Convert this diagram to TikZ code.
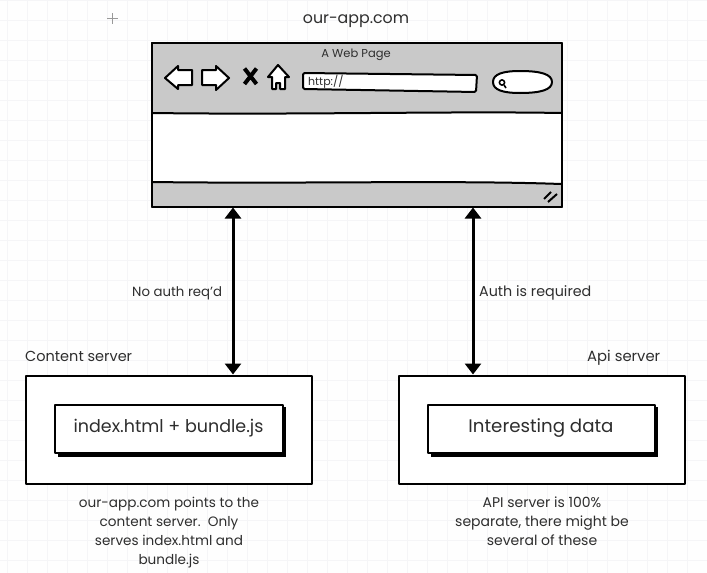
\documentclass[tikz,border=0pt]{standalone}
\usepackage{fontspec}
\setmainfont{Poppins}
\usetikzlibrary{arrows.meta}
\definecolor{ink}{HTML}{2E2E2E}
\definecolor{gridc}{HTML}{F5F5F7}
\definecolor{chrome}{HTML}{C9C9C9}
\newcommand{\fs}[2][0]{\fontsize{#2}{19}\selectfont}
\tikzset{
  x=1pt,y=-1pt,
  sk/.style={draw=black,line width=2pt,line join=round},
  thin sk/.style={draw=black,line width=1.6pt,line join=round},
  box/.style={sk,fill=white,inner sep=0pt,minimum width=#1,anchor=north west},
  txt/.style={text=ink,inner sep=0pt,align=center},
  arr/.style={draw=black,line width=3pt,{Triangle[length=11pt,width=16pt]}-{Triangle[length=11pt,width=16pt]}},
}
\begin{document}
\begin{tikzpicture}
\useasboundingbox (0,0) rectangle (707,573);
\fill[white!99!gray] (0,0) rectangle (707,573);
\foreach \g in {7,27,...,707} \draw[gridc,line width=.8pt] (\g,0) -- (\g,573);
\foreach \g in {0,20,...,573} \draw[gridc,line width=.8pt] (0,\g) -- (707,\g);
% plus mark
\draw[gray!80,line width=.7pt] (112,13) -- (112,24) (107,18.5) -- (118,18.5);
\node[txt,font=\fs{15.8}] (title) at (356,21.5) {our-app.com};
% browser window
\node[box=410pt,minimum height=164pt,fill=chrome] (browser) at (150.5,41.5) {};
\fill[white] (152,113) .. controls (300,115) and (450,111) .. (561,113) -- (561,183) .. controls (450,181) and (300,184) .. (152,182) -- cycle;
\draw[sk] (152,113) .. controls (300,115) and (450,111) .. (561,113);
\draw[sk] (152,182) .. controls (300,184) and (450,180) .. (561,184);
\draw[sk] (151.5,42.5) rectangle (561.5,206.5);
\node[txt,font=\fs{11.5}] (pagetitle) at (356,54.5) {A Web Page};
% toolbar icons
\draw[sk,fill=white] (165,78) -- (178,66) -- (178,70) -- (192,70) -- (192,85) -- (178,85) -- (178,89) -- cycle;
\draw[sk,fill=white] (202,70) -- (216,70) -- (216,66) -- (229,78) -- (216,90) -- (216,85) -- (202,85) -- cycle;
\draw[black,line width=4pt] (244.5,68.5) -- (256.5,84) (256.5,68.5) -- (244.5,84);
\draw[sk,fill=white] (278,65) -- (289,77) -- (285,77) -- (285,89) -- (280,89) -- (280,83) -- (276,83) -- (276,89) -- (272,89) -- (272,77) -- (268,77) -- cycle;
\draw[sk,fill=white,rounded corners=1.5pt] (303,73) -- (477,75) -- (476,92) -- (303,89) -- cycle;
\node[txt,font=\fs{11},anchor=west] (url) at (308,81.5) {http://};
\draw[sk,fill=white] (493,82) .. controls (493,74) and (503,71) .. (520,71) .. controls (540,71) and (552,74) .. (552,82) .. controls (552,90) and (540,93) .. (520,93) .. controls (503,93) and (493,90) .. (493,82) -- cycle;
\draw[thin sk] (502,82.5) circle (2.6pt);
\draw[thin sk] (504,85) -- (506,88);
\draw[black,line width=2pt] (544,199) -- (551,192) (548,202) -- (557,194);
% servers
\node[box=286pt,minimum height=108pt] (content) at (24.5,374.5) {};
\node[box=286pt,minimum height=108pt] (api) at (397.5,374.5) {};
\fill[black] (58,407) rectangle (286,456.5);
\fill[black] (431,407) rectangle (658,456.5);
\node[box=228pt,minimum height=48pt,font=\fs{17.5},text=ink] (bundle) at (53.5,403.5) {\raisebox{-1.5pt}{index.html + bundle.js}};
\node[box=227pt,minimum height=48pt,font=\fs{18.2},text=ink] (data) at (426.5,403.5) {\raisebox{-1.5pt}{Interesting data}};
\node[txt,font=\fs{14.5},anchor=base west] (clabel) at (25,361.5) {Content server};
\node[txt,font=\fs{14.8},anchor=base west] (alabel) at (587,361.5) {Api server};
\node[txt,font=\fs{13.6},anchor=north] (ccap) at (169,497) {our-app.com points to the\\content server.\ \ Only\\serves index.html and\\bundle.js};
\node[txt,font=\fs{14},anchor=north] (acap) at (542,497) {API server is 100\%\\separate, there might be\\several of these};
% connectors
\coordinate (L) at (233,290);
\coordinate (R) at (473,290);
\draw[arr] (browser.south -| L) -- (content.north -| L);
\draw[arr] (browser.south -| R) -- (api.north -| R);
\node[txt,font=\fs{13.3},anchor=base west] (nl) at (132,296) {No auth req'd};
\node[txt,font=\fs{14.3},anchor=base west] (rl) at (479,296) {Auth is required};
\end{tikzpicture}
\end{document}
